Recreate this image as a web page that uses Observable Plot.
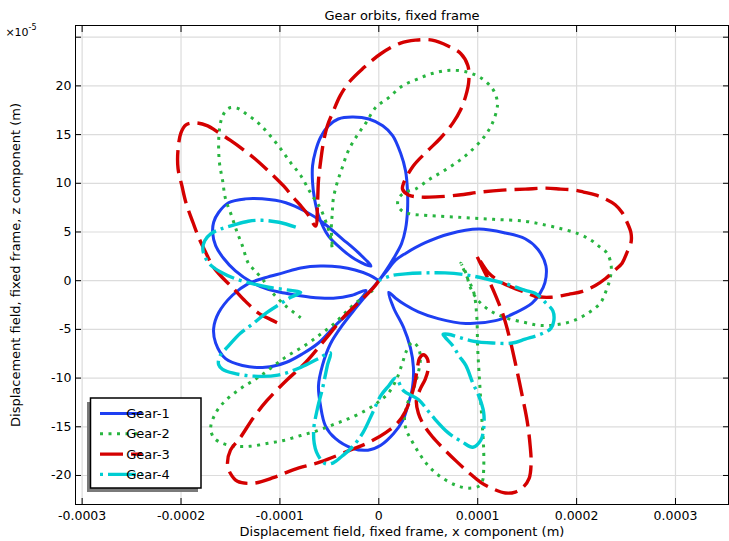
<!DOCTYPE html>
<html><head><meta charset="utf-8">
<script src="https://cdn.jsdelivr.net/npm/d3@7"></script>
<script src="https://cdn.jsdelivr.net/npm/@observablehq/plot@0.6"></script>
<style>
html,body{margin:0;padding:0;background:#fff;}
#chart{width:729px;height:541px;}
</style></head><body><div id="chart"></div>
<script>
// Orbit points: [x, z] displacement in micrometres (1e-6 m)
const gearNames = ["Gear-1", "Gear-2", "Gear-3", "Gear-4"];

const gear1 = [
[0,0],[8,10],[17,21],[27,28],[47,39],[71,48],[101,53],[128,49],[148,43],[161,32],[169,15],[168,-2],[163,-13],[155,-23],[138,-33],[118,-41],[88,-44],[60,-39],[40,-32],[27,-25],[17,-18],[10,-12],
[15,-28],[25,-48],[32,-69],[35,-89],[34,-110],[30,-126],[24,-144],[15,-157],[2,-169],[-11,-174],[-27,-172],[-44,-162],[-54,-149],[-59,-128],[-61,-108],[-57,-87],[-49,-65],[-37,-46],[-24,-29],[-11,-13],[0,0],
[7,10],[15,23],[23,38],[27,53],[29,72],[29,92],[27,113],[22,131],[14,149],[4,159],[-10,166],[-27,168],[-41,166],[-51,159],[-59,147],[-64,133],[-67,118],[-67,101],[-65,84],[-61,67],[-51,46],[-37,32],[-24,22],[-8,15],
[-21,29],[-37,43],[-57,60],[-74,71],[-94,80],[-118,84],[-135,84],[-152,80],[-162,70],[-167,60],[-168,49],[-165,36],[-157,23],[-145,10],[-128,-2],[-112,-9],[-94,-13],[-69,-17],[-46,-18],[-27,-15],[-13,-10],
[-27,-29],[-44,-46],[-61,-64],[-77,-75],[-94,-84],[-115,-89],[-138,-87],[-155,-80],[-165,-64],[-167,-49],[-162,-33],[-148,-15],[-132,-3],[-115,3],[-97,8],[-79,13],[-59,15],[-39,14],[-24,11],[-10,6],[0,0]
];

const gear2 = [
[-6,-10],[-16,-17],[-29,-28],[-44,-43],[-59,-55],[-74,-66],[-95,-79],[-120,-98],[-140,-111],[-155,-123],[-165,-136],[-170,-151],[-167,-161],[-158,-167],[-145,-170],[-130,-170],[-112,-167],[-96,-164],[-79,-159],[-62,-154],[-44,-147],[-29,-141],[-13,-133],[-1,-125],[10,-115],[18,-101],[24,-84],[28,-72],[34,-63],
[40,-69],[42,-80],[40,-94],[35,-111],[29,-126],[26,-142],[28,-154],[32,-162],[40,-176],[50,-190],[62,-201],[78,-210],[91,-213],[101,-211],[105,-205],[106,-195],[106,-172],[104,-139],[102,-105],[100,-70],[99,-36],[96,-12],[90,2],[83,18],
[88,8],[93,-8],[101,-21],[113,-31],[128,-38],[148,-43],[163,-46],[181,-45],[197,-41],[212,-33],[224,-23],[230,-10],[234,3],[235,15],[231,28],[223,35],[214,42],[202,48],[186,53],[169,57],[148,61],[116,63],[83,65],[49,67],[30,69],[22,73],[19,79],[21,86],[27,91],[37,94],
[51,104],[66,113],[81,123],[93,133],[106,147],[115,162],[120,180],[119,188],[115,197],[105,207],[90,214],[72,216],[55,213],[39,207],[24,200],[10,188],[-3,178],[-13,162],[-22,149],[-31,133],[-37,116],[-42,101],[-46,84],[-47,70],[-48,54],[-47,33],
[-49,46],[-52,56],[-59,74],[-69,90],[-79,108],[-89,121],[-99,135],[-110,149],[-122,162],[-135,172],[-143,177],[-152,177],[-158,169],[-161,156],[-162,139],[-161,120],[-158,103],[-155,84],[-149,67],[-143,49],[-138,36],[-132,18],[-127,12],[-118,2],[-108,-12],[-94,-26],[-79,-38]
];

const gear3 = [
[0,0],[-6,-8],[-21,-23],[-37,-39],[-54,-60],[-74,-84],[-94,-103],[-113,-123],[-127,-141],[-140,-161],[-150,-174],[-153,-188],[-150,-198],[-143,-206],[-127,-208],[-106,-202],[-86,-194],[-59,-186],[-29,-174],[-10,-166],[7,-156],[19,-146],[27,-134],[32,-121],[36,-107],[39,-90],[41,-80],[45,-76],[49,-80],[50,-90],[47,-101],[42,-111],[38,-123],[40,-136],[46,-149],[54,-160],[65,-172],[78,-185],[91,-197],[103,-207],[116,-214],[128,-218],[138,-217],[146,-212],[152,-203],[154,-187],[153,-169],[150,-144],[145,-118],[139,-89],[133,-62],[126,-36],[118,-15],[110,3],[104,15],[99,26],
[104,18],[111,8],[121,0],[135,-7],[148,-12],[158,-16],[174,-17],[192,-14],[206,-11],[219,-5],[229,2],[239,11],[246,18],[251,29],[255,39],[255,49],[251,60],[246,70],[239,78],[229,84],[219,88],[207,91],[198,93],[184,94],[169,95],[148,94],[125,93],[103,91],[81,88],[57,86],[40,86],[30,88],[24,94],[25,100],
[35,118],[49,133],[62,146],[75,162],[83,176],[88,190],[91,205],[90,221],[83,233],[70,241],[54,247],[37,247],[22,244],[2,233],[-16,218],[-29,205],[-39,190],[-46,174],[-52,159],[-56,142],[-59,121],[-61,103],[-62,80],[-64,56],
[-71,67],[-79,77],[-87,86],[-96,97],[-112,113],[-125,125],[-135,133],[-150,144],[-165,154],[-173,159],[-185,162],[-195,160],[-200,152],[-203,135],[-203,115],[-199,97],[-195,80],[-188,60],[-182,44],[-175,29],[-168,15],[-158,3],[-148,-7],[-135,-21],[-122,-33],[-107,-41],[-97,-46]
];

const gear4 = [
[-84,55],[-101,60],[-118,62],[-132,61],[-147,57],[-160,53],[-170,48],[-176,41],[-178,33],[-176,25],[-170,16],[-160,9],[-145,2],[-128,-3],[-110,-7],[-89,-10],[-79,-12],
[-89,-17],[-100,-24],[-115,-34],[-127,-44],[-140,-54],[-152,-67],[-161,-78],[-162,-86],[-158,-91],[-147,-95],[-127,-98],[-102,-97],[-79,-89],[-61,-80],[-49,-74],
[-52,-87],[-57,-111],[-62,-131],[-66,-156],[-63,-176],[-54,-188],[-46,-187],[-37,-180],[-27,-171],[-16,-156],[-6,-135],[2,-118],[10,-108],[17,-100],
[25,-113],[40,-122],[54,-139],[70,-156],[85,-166],[95,-171],[103,-164],[106,-152],[106,-135],[101,-118],[95,-105],[88,-87],[81,-77],[75,-67],[67,-58],[65,-55],
[70,-55],[95,-62],[115,-64],[135,-64],[148,-60],[166,-54],[174,-49],[177,-41],[176,-31],[169,-23],[158,-13],[148,-10],[128,-3],[108,2],[88,6],[67,8],[47,8],[27,7],[12,5],[0,0]
];

const xTicks = [-0.0003, -0.0002, -0.0001, 0, 0.0001, 0.0002, 0.0003];
const yTicks = [-20, -15, -10, -5, 0, 5, 10, 15, 20, 25];
const yTickLabelled = [-20, -15, -10, -5, 0, 5, 10, 15, 20];

const titleText = "Gear orbits, fixed frame";
const xLabel = "Displacement field, fixed frame, x component (m)";
const yLabel = "Displacement field, fixed frame, z component (m)";

const colors = ["#1e3ff2", "#28b540", "#d40000", "#00cdd2"];
const widths = [3, 3, 3.4, 3.4];
const dashes = [null, "3,5.5", "23,8", "28,5,3,5"];
const gears = [gear1, gear2, gear3, gear4];

const fmtX = d => (Math.abs(d) < 1e-12 ? "0" : d.toFixed(4));
const fmtY = d => String(d);

const plot = Plot.plot({
  width: 729, height: 541,
  marginLeft: 75, marginRight: 1, marginTop: 25, marginBottom: 37,
  x: {domain: [-3.067e-4, 3.536e-4]},
  y: {domain: [-22.98, 26.2]},
  style: {fontFamily: "'DejaVu Sans', sans-serif", fontSize: "12.5px", color: "#000", background: "#fff"},
  marks: [
    Plot.gridX({ticks: xTicks, stroke: "#dcdcdc", strokeOpacity: 1, strokeWidth: 1.2}),
    Plot.gridY({ticks: yTicks, stroke: "#dcdcdc", strokeOpacity: 1, strokeWidth: 1.2}),
    ...gears.map((g, i) => Plot.line(g, {
      x: d => d[0] * 1e-6, y: d => d[1] / 10,
      stroke: colors[i], strokeWidth: widths[i],
      strokeDasharray: dashes[i] ?? undefined,
      strokeLinejoin: "round", strokeLinecap: "butt",
      curve: "catmull-rom"
    })),
    Plot.frame({stroke: "#000", strokeWidth: 1}),
    Plot.axisX({ticks: xTicks, anchor: "bottom", tickSize: 0, tickPadding: 7, tickFormat: fmtX, label: null}),
    Plot.axisY({ticks: yTickLabelled, anchor: "left", tickSize: 0, tickPadding: 4, tickFormat: fmtY, label: null}),
    Plot.axisX({ticks: xTicks, anchor: "bottom", tickSize: 6, dy: -6, tickFormat: () => "", label: null}),
    Plot.axisX({ticks: xTicks, anchor: "top", tickSize: 6, dy: 6, tickFormat: () => "", label: null}),
    Plot.axisY({ticks: yTicks, anchor: "left", tickSize: 6, dx: 6, tickFormat: () => "", label: null}),
    Plot.axisY({ticks: yTicks, anchor: "right", tickSize: 6, dx: -6, tickFormat: () => "", label: null}),
    Plot.text([titleText], {text: d => d, frameAnchor: "top", dy: -10, fontSize: 13, textAnchor: "middle", lineAnchor: "middle"}),
    Plot.text([xLabel], {text: d => d, frameAnchor: "bottom", dy: 27.5, fontSize: 13, textAnchor: "middle", lineAnchor: "middle"}),
    Plot.text([yLabel], {text: d => d, frameAnchor: "left", dx: -59.5, rotate: -90, fontSize: 13, textAnchor: "middle", lineAnchor: "middle"})
  ]
});

document.getElementById("chart").appendChild(plot);

// exponent marker at top-left
const svg = d3.select(plot);
const ex = svg.append("text").attr("x", 21).attr("y", 36)
  .attr("font-family", "'DejaVu Sans', sans-serif").attr("font-size", 11).attr("fill", "#000");
ex.append("tspan").text("×10");
ex.append("tspan").attr("font-size", 8).attr("dy", -6).text("-5");

// legend
const lg = svg.append("g");
lg.append("rect").attr("x", 87).attr("y", 402).attr("width", 111).attr("height", 90).attr("fill", "#7a7a7a");
lg.append("rect").attr("x", 90.5).attr("y", 398).attr("width", 110.5).attr("height", 90)
  .attr("fill", "#fff").attr("stroke", "#000").attr("stroke-width", 1.5);
gearNames.forEach((name, i) => {
  const y = 413.5 + i * 20.3;
  lg.append("line").attr("x1", 100).attr("x2", 142).attr("y1", y).attr("y2", y)
    .attr("stroke", colors[i]).attr("stroke-width", widths[i])
    .attr("stroke-dasharray", dashes[i])
    .attr("stroke-dashoffset", i === 3 ? 33 : 0);
  lg.append("text").attr("x", 148).attr("y", y).attr("dy", "0.35em")
    .attr("font-family", "'DejaVu Sans', sans-serif").attr("font-size", 13).attr("fill", "#000")
    .text(name);
});
</script>
</body></html>
